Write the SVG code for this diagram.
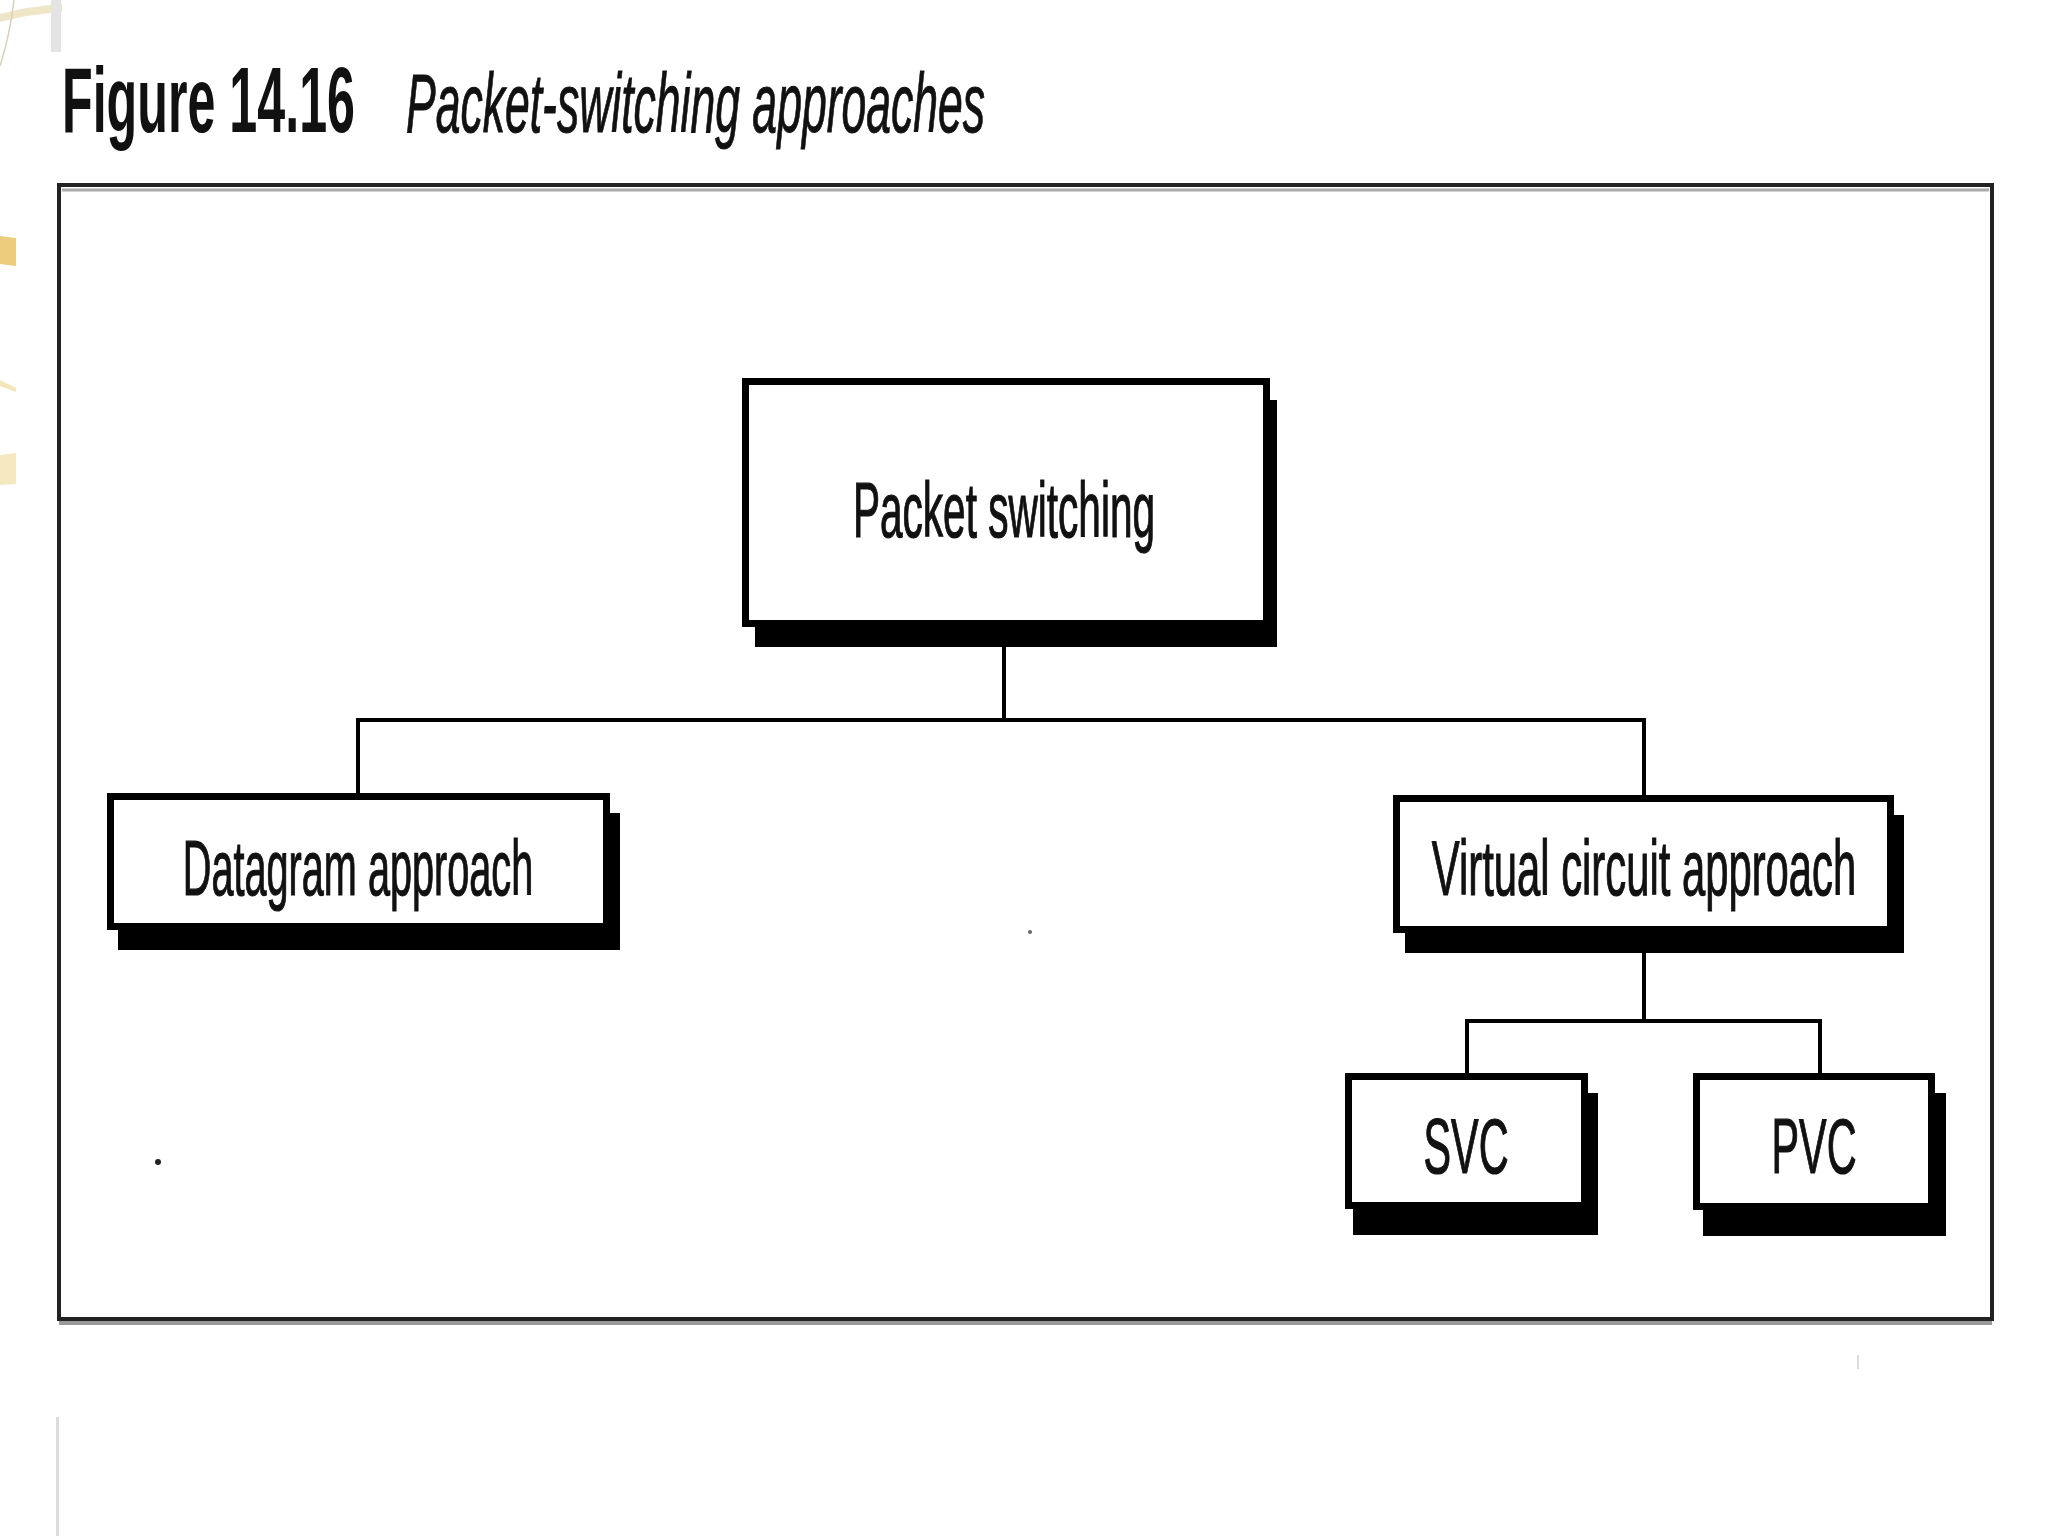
<svg xmlns="http://www.w3.org/2000/svg" width="2048" height="1536" viewBox="0 0 2048 1536">
<style>
.box{fill:#fff;stroke:#000;stroke-width:7}
.sh{fill:#000}
.lbl{font-family:"Liberation Sans",Arial,sans-serif;font-size:77px;fill:#111;stroke:#111;stroke-width:1.2;text-anchor:middle}
.conn{stroke:#000;stroke-width:4;fill:none}
</style>
<rect width="2048" height="1536" fill="#fff"/>
<g id="decor">
<path d="M0,14 Q30,6 62,4 L62,12 Q30,14 0,22 Z" fill="#efe6c8"/>
<path d="M14,0 Q10,35 0,66" stroke="#d8d0b8" stroke-width="1.5" fill="none"/>
<rect x="51" y="0" width="10" height="52" fill="#e4e4e4"/>
<path d="M0,236 L16,238 L16,266 L0,264 Z" fill="#ebcb7c"/>
<path d="M0,380 L16,388 L16,392 L0,386 Z" fill="#f3e6bc"/>
<path d="M0,455 L16,453 L16,484 L0,485 Z" fill="#f5e8c0"/>
<rect x="56" y="1417" width="3" height="119" fill="#dcdcdc"/>
<rect x="1857" y="1355" width="2" height="14" fill="#ddd"/>
</g>
<g id="title">
<text transform="translate(62,132) scale(0.54,1)" font-family="'Liberation Sans',Arial,sans-serif" font-weight="bold" font-size="93" fill="#111">Figure 14.16</text>
<text transform="translate(406,132) scale(0.53,1)" font-family="'Liberation Sans',Arial,sans-serif" font-style="italic" font-size="84" fill="#111" stroke="#111" stroke-width="1">Packet-switching approaches</text>
</g>
<g id="frame">
<rect x="59" y="185" width="1933" height="1134" fill="none" stroke="#222" stroke-width="4"/>
<line x1="62" y1="190" x2="1989" y2="190" stroke="#aaa" stroke-width="3"/>
<line x1="59" y1="1323" x2="1992" y2="1323" stroke="#999" stroke-width="4"/>
</g>
<g id="connectors">
<line class="conn" x1="1004" y1="647" x2="1004" y2="720"/>
<line class="conn" x1="356" y1="720" x2="1646" y2="720"/>
<line class="conn" x1="358" y1="720" x2="358" y2="793"/>
<line class="conn" x1="1644" y1="720" x2="1644" y2="795"/>
<line class="conn" x1="1644" y1="953" x2="1644" y2="1021"/>
<line class="conn" x1="1465" y1="1021" x2="1822" y2="1021"/>
<line class="conn" x1="1467" y1="1021" x2="1467" y2="1073"/>
<line class="conn" x1="1820" y1="1021" x2="1820" y2="1073"/>
</g>
<g id="node-packet">
<rect class="sh" x="755" y="400" width="522" height="247"/>
<rect class="box" x="745.5" y="381.5" width="521" height="242"/>
<text class="lbl" transform="translate(1004,537) scale(0.527,1)">Packet switching</text>
</g>
<g id="node-datagram">
<rect class="sh" x="118" y="813" width="502" height="137"/>
<rect class="box" x="110.5" y="796.5" width="496" height="130"/>
<text class="lbl" transform="translate(358,895) scale(0.515,1)">Datagram approach</text>
</g>
<g id="node-virtual">
<rect class="sh" x="1405" y="815" width="499" height="138"/>
<rect class="box" x="1396.5" y="798.5" width="494" height="131"/>
<text class="lbl" transform="translate(1644,895) scale(0.543,1)">Virtual circuit approach</text>
</g>
<g id="node-svc">
<rect class="sh" x="1353" y="1093" width="245" height="142"/>
<rect class="box" x="1348.5" y="1076.5" width="236" height="129"/>
<text class="lbl" transform="translate(1466,1173) scale(0.537,1)">SVC</text>
</g>
<g id="node-pvc">
<rect class="sh" x="1703" y="1093" width="243" height="143"/>
<rect class="box" x="1696.5" y="1076.5" width="235" height="130"/>
<text class="lbl" transform="translate(1814,1173) scale(0.537,1)">PVC</text>
</g>
<circle cx="158" cy="1162" r="3" fill="#222"/>
<circle cx="1030" cy="932" r="2" fill="#666"/>
</svg>
